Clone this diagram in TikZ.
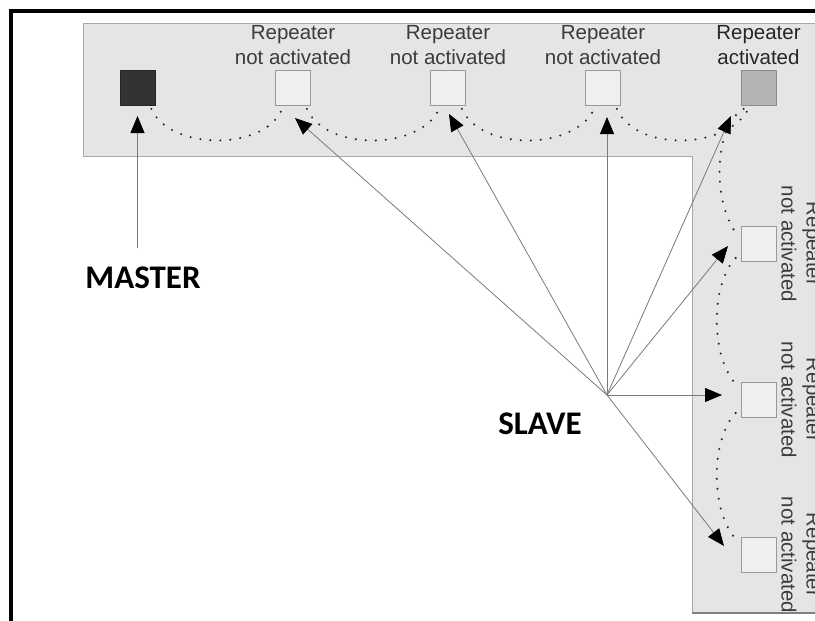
\documentclass[tikz,border=0pt]{standalone}
\usepackage{fontspec}
\setmainfont{Liberation Sans}
\newfontfamily\calib{Carlito}
\usetikzlibrary{arrows.meta}
\definecolor{bandgrey}{HTML}{E5E5E5}
\definecolor{bandedge}{HTML}{A8A8A8}
\definecolor{sqfill}{HTML}{EFEFEF}
\definecolor{sqedge}{HTML}{999999}
\definecolor{mfill}{HTML}{333333}
\definecolor{afill}{HTML}{B3B3B3}
\definecolor{wire}{HTML}{7A7A7A}
\definecolor{lbl}{HTML}{3C3C3C}
\begin{document}
\begin{tikzpicture}[x=1pt,y=-1pt,
  sq/.style={draw=sqedge,line width=0.8pt,fill=sqfill,minimum size=35pt,inner sep=0pt,anchor=center},
  master/.style={sq,fill=mfill,draw=black!85},
  activ/.style={sq,fill=afill,draw=black!45},
  replbl/.style={align=center,inner sep=0pt,text=lbl,font=\fontsize{20.5}{25}\selectfont},
  biglbl/.style={inner sep=0pt,font=\calib\bfseries\fontsize{33}{36}\selectfont},
  arr/.style={draw=wire,line width=0.8pt,-{Triangle[length=17pt,width=14pt,color=black]}},
  dots/.style={draw=black!85,line width=2.3pt,dash pattern=on 0pt off 10pt,line cap=round}]
\useasboundingbox (0,0) rectangle (815,621);
\clip (0,0) rectangle (815,621);
% frame
\draw[line width=4pt] (10.7,625) -- (10.7,10.7) -- (820,10.7);
% grey L band
\path[fill=bandgrey,draw=bandedge,line width=0.8pt]
  (83,23) -- (822,23) -- (822,613) -- (692,613) -- (692,156) -- (83,156) -- cycle;
\draw[draw=black!50,line width=2pt] (692,613) -- (822,613);
% top squares
\node[master] (m) at (137.5,88) {};
\node[sq] (t1) at (293,88) {};
\node[sq] (t2) at (448,88) {};
\node[sq] (t3) at (603,88) {};
\node[activ] (ta) at (758.5,88) {};
% right squares
\node[sq] (r1) at (758.5,244) {};
\node[sq] (r2) at (758.5,400) {};
\node[sq] (r3) at (758.5,555) {};
% labels
\node[replbl] (l1) at (293,45) {Repeater\\not activated};
\node[replbl] (l2) at (448,45) {Repeater\\not activated};
\node[replbl] (l3) at (603,45) {Repeater\\not activated};
\node[replbl,text=black!85] (la) at (758.5,45) {Repeater\\activated};
\node[replbl,rotate=-90] (lr1) at (801,244) {Repeater\\not activated};
\node[replbl,rotate=-90] (lr2) at (801,400) {Repeater\\not activated};
\node[replbl,rotate=-90] (lr3) at (801,555) {Repeater\\not activated};
% big labels
\node[biglbl] (mlbl) at (143,278) {MASTER};
\node[biglbl] (slbl) at (540,424) {SLAVE};
% dotted chain
\draw[dots] ([shift={(-4,3)}]m.south east) .. controls (170,151) and (265,151) .. ([shift={(7,3)}]t1.south west);
\draw[dots] ([shift={(-4,3)}]t1.south east) .. controls (325,151) and (420,151) .. ([shift={(9,3)}]t2.south west);
\draw[dots] ([shift={(-4,3)}]t2.south east) .. controls (480,151) and (575,151) .. ([shift={(9,3)}]t3.south west);
\draw[dots] ([shift={(-4,3)}]t3.south east) .. controls (635,151) and (725,151) .. ([shift={(8,3)}]ta.south west);
\draw[dots] ([shift={(3,3)}]ta.south west) .. controls (715,125) and (710,200) .. ([shift={(-2,-7)}]r1.west);
\draw[dots] ([shift={(-5,14)}]r1.west) .. controls (710,285) and (710,360) .. ([shift={(-2,-13)}]r2.west);
\draw[dots] ([shift={(-5,13)}]r2.west) .. controls (710,440) and (710,515) .. ([shift={(-2,-13)}]r3.west);
% arrows
\coordinate (hub) at (607,395);
\coordinate (mbase) at (137.5,248);
\coordinate (tm) at (137.5,116);
\coordinate (tt1) at (295,118);
\coordinate (tt2) at (449,114);
\coordinate (tt3) at (607,117);
\coordinate (tta) at (731,116);
\coordinate (tr1) at (728,246);
\coordinate (tr2) at (722,395);
\coordinate (tr3) at (724,546);
\draw[arr] (mbase) -- (tm);
\draw[arr] (hub) -- (tt1);
\draw[arr] (hub) -- (tt2);
\draw[arr] (hub) -- (tt3);
\draw[arr] (hub) -- (tta);
\draw[arr] (hub) -- (tr1);
\draw[arr] (hub) -- (tr2);
\draw[arr] (hub) -- (tr3);
\end{tikzpicture}
\end{document}
